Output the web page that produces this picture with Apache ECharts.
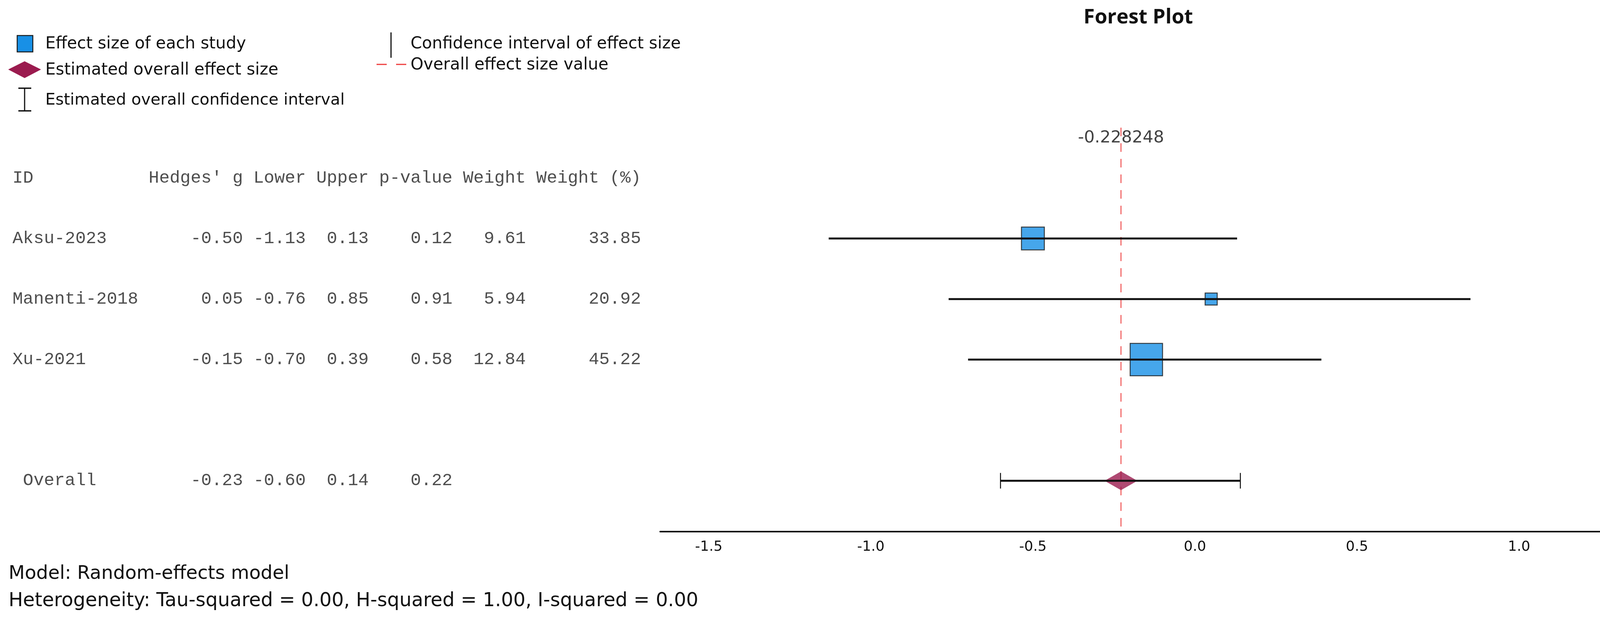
<!DOCTYPE html>
<html>
<head>
<meta charset="utf-8">
<script src="https://cdn.jsdelivr.net/npm/echarts@6/dist/echarts.min.js"></script>
<style>
  html, body { margin: 0; padding: 0; background: #fff; }
  #chart { width: 4154px; height: 1591px; }
</style>
</head>
<body>
<div id="chart"></div>
<script>
// ---------------- data ----------------
const studyIds   = ['Aksu-2023', 'Manenti-2018', 'Xu-2021'];
const hedgesG    = [-0.50, 0.05, -0.15];
const lowerCI    = [-1.13, -0.76, -0.70];
const upperCI    = [0.13, 0.85, 0.39];
const pValues    = [0.12, 0.91, 0.58];
const weights    = [9.61, 5.94, 12.84];
const weightPct  = [33.85, 20.92, 45.22];

const overallLabel  = 'Overall';
const overallTable  = [-0.23, -0.60, 0.14, 0.22];   // g, lower, upper, p
const overallEffect = -0.228248;
const overallLower  = -0.60;
const overallUpper  = 0.14;

const tableHeaders = ['ID', "Hedges' g", 'Lower', 'Upper', 'p-value', 'Weight', 'Weight (%)'];
const xTickValues  = [-1.5, -1.0, -0.5, 0.0, 0.5, 1.0];

const legendTexts = [
  'Effect size of each study',
  'Estimated overall effect size',
  'Estimated overall confidence interval',
  'Confidence interval of effect size',
  'Overall effect size value'
];
const titleText = 'Forest Plot';
const footerTexts = [
  'Model: Random-effects model',
  'Heterogeneity: Tau-squared = 0.00, H-squared = 1.00, I-squared = 0.00'
];

// ---------------- layout / style ----------------
const colWidths = [13, 9, 6, 6, 8, 7, 11];
function fmtRow(cells) {
  return cells.map((c, i) => i === 0 ? String(c).padEnd(colWidths[0]) : String(c).padStart(colWidths[i])).join('');
}
const f2 = v => v.toFixed(2);

const tableRows = [{ y: 0, text: fmtRow(tableHeaders) }];
studyIds.forEach((id, i) => {
  tableRows.push({ y: i + 1, text: fmtRow([id, f2(hedgesG[i]), f2(lowerCI[i]), f2(upperCI[i]), f2(pValues[i]), f2(weights[i]), f2(weightPct[i])]) });
});
const overallRowY = studyIds.length + 2;
tableRows.push({ y: overallRowY, text: fmtRow([' ' + overallLabel].concat(overallTable.map(f2))) });

const Y_MIN = -0.83, Y_MAX = 5.84;
const GRID_TOP = 327, GRID_BOTTOM = 229;
const SANS = 'DejaVu Sans';
const MONO = 'Liberation Mono';
const BLUE = '#1890E6';
const MAROON = '#9B1B4F';
const RED = '#F26B6B';

const chart = echarts.init(document.getElementById('chart'), null, { renderer: 'canvas' });

const option = {
  animation: false,
  backgroundColor: '#fff',
  grid: [
    { left: 0, width: 1690, top: GRID_TOP, bottom: GRID_BOTTOM, containLabel: false },
    { left: 1690, right: 22, top: GRID_TOP, bottom: GRID_BOTTOM, containLabel: false }
  ],
  xAxis: [
    { gridIndex: 0, type: 'value', min: 0, max: 1690, show: false },
    {
      gridIndex: 1, type: 'value', min: -1.65, max: 1.293,
      splitLine: { show: false },
      axisLine: { show: true, onZero: false, lineStyle: { color: '#111', width: 4 } },
      axisTick: { show: false },
      axisLabel: {
        show: true, customValues: xTickValues, margin: 22,
        fontFamily: SANS, fontSize: 36, color: '#111',
        formatter: v => v.toFixed(1)
      }
    }
  ],
  yAxis: [
    { gridIndex: 0, type: 'value', min: Y_MIN, max: Y_MAX, inverse: true, show: false },
    { gridIndex: 1, type: 'value', min: Y_MIN, max: Y_MAX, inverse: true, show: false }
  ],
  series: [
    // table text
    {
      type: 'scatter', xAxisIndex: 0, yAxisIndex: 0,
      symbolSize: 0, silent: true,
      itemStyle: { color: 'transparent' },
      data: tableRows.map(r => ({ value: [32, r.y], name: r.text })),
      label: {
        show: true, position: 'right', distance: 0,
        formatter: p => p.name,
        fontFamily: MONO, fontSize: 44.7, color: '#222'
      },
      z: 5
    },
    // overall effect vertical dashed line
    {
      type: 'line', xAxisIndex: 1, yAxisIndex: 1,
      data: [[overallEffect, Y_MIN], [overallEffect, Y_MAX]],
      symbol: 'none', silent: true,
      lineStyle: { color: RED, width: 3, type: [22, 18] },
      z: 1
    },
    // label of overall effect
    {
      type: 'scatter', xAxisIndex: 1, yAxisIndex: 1,
      symbolSize: 0, silent: true,
      itemStyle: { color: 'transparent' },
      data: [[overallEffect, -0.66]],
      label: {
        show: true, position: 'inside',
        formatter: () => String(overallEffect),
        fontFamily: SANS, fontSize: 43, color: '#111'
      },
      z: 6
    },
    // study squares
    {
      type: 'scatter', xAxisIndex: 1, yAxisIndex: 1,
      symbol: 'rect',
      symbolSize: v => 2.14 * v[2] - 13.8,
      data: hedgesG.map((g, i) => [g, i + 1, weightPct[i]]),
      itemStyle: { color: BLUE, borderColor: '#1a1a1a', borderWidth: 2.5 },
      z: 3
    },
    // overall diamond
    {
      type: 'scatter', xAxisIndex: 1, yAxisIndex: 1,
      symbol: 'diamond', symbolSize: [84, 48],
      data: [[overallEffect, overallRowY]],
      itemStyle: { color: MAROON },
      z: 3
    },
    // study CI lines
    {
      type: 'custom', xAxisIndex: 1, yAxisIndex: 1,
      data: lowerCI.map((lo, i) => [lo, upperCI[i], i + 1]),
      encode: { x: [0, 1], y: 2 },
      renderItem: (params, api) => {
        const y = api.value(2);
        const a = api.coord([api.value(0), y]);
        const b = api.coord([api.value(1), y]);
        return { type: 'line', shape: { x1: a[0], y1: a[1], x2: b[0], y2: b[1] }, style: { stroke: '#111', lineWidth: 5 } };
      },
      z: 4
    },
    // overall CI with caps
    {
      type: 'custom', xAxisIndex: 1, yAxisIndex: 1,
      data: [[overallLower, overallUpper, overallRowY]],
      encode: { x: [0, 1], y: 2 },
      renderItem: (params, api) => {
        const y = api.value(2);
        const a = api.coord([api.value(0), y]);
        const b = api.coord([api.value(1), y]);
        const h = 20;
        return {
          type: 'group',
          children: [
            { type: 'line', shape: { x1: a[0], y1: a[1], x2: b[0], y2: b[1] }, style: { stroke: '#111', lineWidth: 5 } },
            { type: 'line', shape: { x1: a[0], y1: a[1] - h, x2: a[0], y2: a[1] + h }, style: { stroke: '#111', lineWidth: 2.5 } },
            { type: 'line', shape: { x1: b[0], y1: b[1] - h, x2: b[0], y2: b[1] + h }, style: { stroke: '#111', lineWidth: 2.5 } }
          ]
        };
      },
      z: 4
    }
  ],
  graphic: [
    // title
    { type: 'text', x: 2914, y: 45, style: { text: titleText, fontFamily: 'Open Sans', fontWeight: 'bold', fontSize: 52, fill: '#111', align: 'center', verticalAlign: 'middle' } },
    // legend: blue square
    { type: 'rect', shape: { x: 44, y: 91, width: 40, height: 42 }, style: { fill: BLUE, stroke: '#1a1a1a', lineWidth: 2.5 } },
    { type: 'text', x: 116, y: 113, style: { text: legendTexts[0], fontFamily: SANS, fontSize: 42, fill: '#111', verticalAlign: 'middle' } },
    // legend: diamond
    { type: 'polygon', shape: { points: [[21, 178], [63, 157], [105, 178], [63, 200]] }, style: { fill: MAROON } },
    { type: 'text', x: 116, y: 180, style: { text: legendTexts[1], fontFamily: SANS, fontSize: 42, fill: '#111', verticalAlign: 'middle' } },
    // legend: I-beam
    { type: 'line', shape: { x1: 63, y1: 226, x2: 63, y2: 284 }, style: { stroke: '#111', lineWidth: 3 } },
    { type: 'line', shape: { x1: 47, y1: 226, x2: 80, y2: 226 }, style: { stroke: '#111', lineWidth: 3.5 } },
    { type: 'line', shape: { x1: 47, y1: 284, x2: 80, y2: 284 }, style: { stroke: '#111', lineWidth: 3.5 } },
    { type: 'text', x: 116, y: 257, style: { text: legendTexts[2], fontFamily: SANS, fontSize: 41, fill: '#111', verticalAlign: 'middle' } },
    // legend: CI vertical line
    { type: 'line', shape: { x1: 1001, y1: 83, x2: 1001, y2: 148 }, style: { stroke: '#111', lineWidth: 3 } },
    { type: 'text', x: 1051, y: 113, style: { text: legendTexts[3], fontFamily: SANS, fontSize: 42, fill: '#111', verticalAlign: 'middle' } },
    // legend: red dashes
    { type: 'line', shape: { x1: 964, y1: 165, x2: 1040, y2: 165 }, style: { stroke: '#EE3B3B', lineWidth: 3, lineDash: [26, 24] } },
    { type: 'text', x: 1051, y: 167, style: { text: legendTexts[4], fontFamily: SANS, fontSize: 42, fill: '#111', verticalAlign: 'middle' } },
    // footer
    { type: 'text', x: 22, y: 1471, style: { text: footerTexts[0], fontFamily: SANS, fontSize: 48, fill: '#111', verticalAlign: 'middle' } },
    { type: 'text', x: 22, y: 1540, style: { text: footerTexts[1], fontFamily: SANS, fontSize: 49, fill: '#111', verticalAlign: 'middle' } }
  ]
};
chart.setOption(option);
</script>
</body>
</html>
